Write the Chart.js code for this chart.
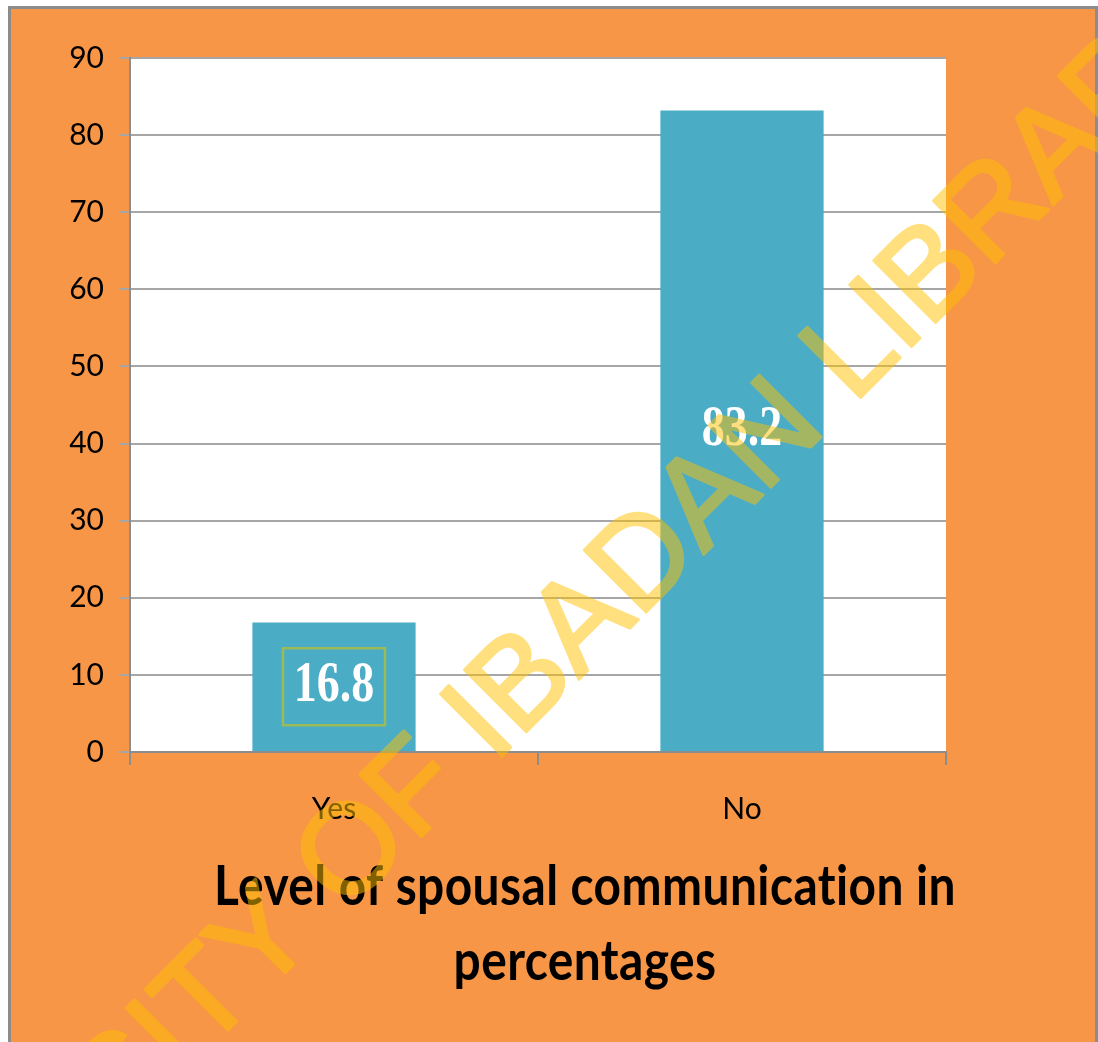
<!DOCTYPE html>
<html>
<head>
<meta charset="utf-8">
<title>Level of spousal communication in percentages</title>
<script src="https://cdn.jsdelivr.net/npm/chart.js@4.4.1/dist/chart.umd.min.js"></script>
<style>
  html, body { margin: 0; padding: 0; background: #fff; overflow: hidden; }
  #page { position: relative; width: 1098px; height: 1042px; }
  #frame { position: absolute; left: 8px; top: 6px; width: 1090px; height: 1100px;
           box-sizing: border-box; border: 3px solid #8c8c8c; background: #f79646; }
  #chart-wrap { position: absolute; left: 0; top: 0; width: 1098px; height: 1042px; }
</style>
</head>
<body>
<div id="page">
  <div id="frame"></div>
  <div id="chart-wrap"><canvas id="bar-chart"></canvas></div>
</div>
<script>
var categories = ['Yes', 'No'];
var percentages = [16.8, 83.2];
var yMin = 0;
var yMax = 90;
var yStep = 10;
var titleLines = ['Level of spousal communication in', 'percentages'];
var watermark = 'UNIVERSITY OF IBADAN LIBRARY';

// white plot area
var plotBackground = {
    id: 'plotBackground',
    beforeDraw: function (chart) {
        var a = chart.chartArea;
        var ctx = chart.ctx;
        ctx.save();
        ctx.fillStyle = '#ffffff';
        ctx.fillRect(a.left, a.top, a.right - a.left, a.bottom - a.top);
        ctx.restore();
    }
};

// value labels in the middle of each bar
var valueLabels = {
    id: 'valueLabels',
    afterDatasetsDraw: function (chart) {
        var ctx = chart.ctx;
        var bars = chart.getDatasetMeta(0).data;
        ctx.save();
        ctx.font = 'bold 56px "Liberation Serif"';
        ctx.fillStyle = '#ffffff';
        ctx.textAlign = 'center';
        ctx.textBaseline = 'middle';
        bars.forEach(function (bar, i) {
            var cx = bar.x;
            var cy = (bar.y + bar.base) / 2;
            if (i === 0) {
                ctx.strokeStyle = '#9bbb59';
                ctx.lineWidth = 2.5;
                ctx.strokeRect(cx - 51, cy - 38.5, 102, 77);
            }
            ctx.save();
            ctx.translate(cx, cy);
            ctx.scale(0.82, 1);
            ctx.fillText(String(percentages[i]), 0, 0);
            ctx.restore();
        });
        ctx.restore();
    }
};

// title under the axis + library watermark on top
var titleAndWatermark = {
    id: 'titleAndWatermark',
    afterDraw: function (chart) {
        var ctx = chart.ctx;
        ctx.save();
        ctx.font = 'bold 56px Lato';
        ctx.letterSpacing = '0.5px';   // also stops the "ti" ligature
        ctx.fillStyle = '#000000';
        ctx.textAlign = 'center';
        ctx.textBaseline = 'alphabetic';
        var sx = 742 / ctx.measureText(titleLines[0]).width;
        titleLines.forEach(function (line, i) {
            ctx.save();
            ctx.translate(585, 905 + i * 75);
            ctx.scale(sx, 1);
            ctx.fillText(line, 0, 0);
            ctx.restore();
        });
        ctx.restore();

        // watermark drawn opaque off-screen, then laid on at half alpha
        var off = document.createElement('canvas');
        off.width = chart.width;
        off.height = chart.height;
        var octx = off.getContext('2d');
        octx.translate(-219.5, 1477.5);
        octx.rotate(-Math.PI / 4);
        octx.font = '127px "Liberation Sans"';
        octx.fillStyle = '#ffc000';
        octx.strokeStyle = '#ffc000';
        octx.lineWidth = 3;
        octx.lineJoin = 'round';
        octx.textAlign = 'left';
        octx.textBaseline = 'alphabetic';
        octx.fillText(watermark, 0, 0);
        octx.strokeText(watermark, 0, 0);

        ctx.save();
        ctx.globalAlpha = 0.5;
        ctx.drawImage(off, 0, 0);
        ctx.restore();
    }
};

new Chart(document.getElementById('bar-chart'), {
    type: 'bar',
    data: {
        labels: categories,
        datasets: [
        {
            data: percentages,
            backgroundColor: '#4bacc6',
            borderWidth: 0,
            barPercentage: 0.4,
            categoryPercentage: 1.0
        }
        ]
    },
    options: {
        responsive: true,
        maintainAspectRatio: false,
        animation: false,
        layout: { padding: { top: 58, right: 152, bottom: 0, left: 0 } },
        plugins: {
            legend: { display: false },
            tooltip: { enabled: false },
            title: { display: false }
        },
        scales: {
            x: {
                grid: { offset: true, drawOnChartArea: false, color: '#8c8c8c', lineWidth: 2, tickLength: 13 },
                border: { color: '#8c8c8c', width: 2 },
                ticks: { color: '#000000', font: { family: 'Lato', size: 30 }, padding: 26 },
                afterFit: function (scale) { scale.height = 290; }
            },
            y: {
                min: yMin,
                max: yMax,
                ticks: { stepSize: yStep, color: '#000000', font: { family: 'Lato', size: 30 }, padding: 16 },
                grid: { color: '#a6a6a6', lineWidth: 2, tickLength: 10 },
                border: { color: '#8c8c8c', width: 2 },
                afterFit: function (scale) { scale.width = 130; }
            }
        }
    },
    plugins: [plotBackground, valueLabels, titleAndWatermark]
});
</script>
</body>
</html>
